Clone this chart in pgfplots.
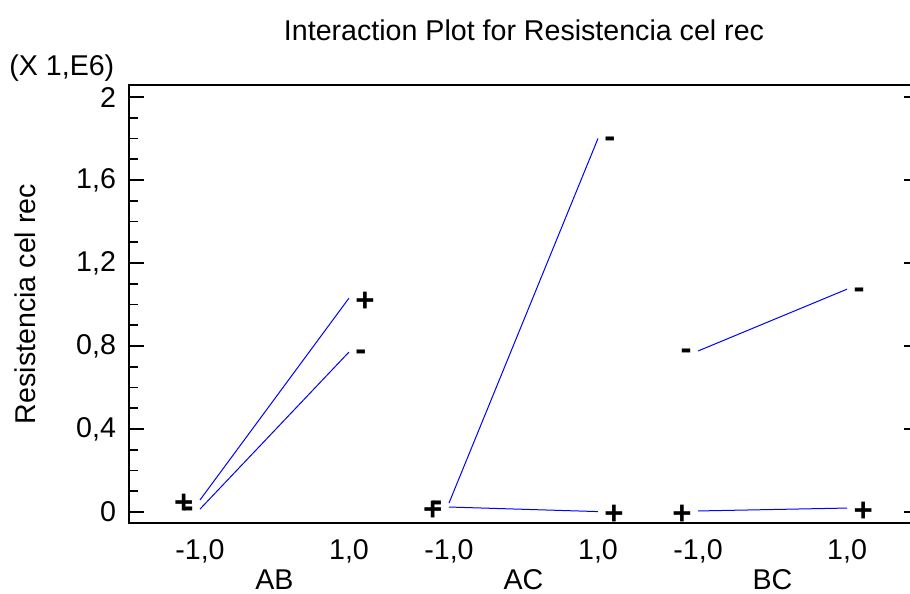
\documentclass[border=0pt]{standalone}
\usepackage{fontspec}
\setmainfont{Liberation Sans}
\usepackage{pgfplots}
\pgfplotsset{compat=1.18}
\begin{document}
\begin{tikzpicture}[font=\fontsize{14.3}{17}\selectfont,
  mk/.style={font=\fontsize{16.5}{19}\selectfont\bfseries, text=black, inner sep=3pt, yshift=-1.8pt}]
\useasboundingbox (-64.5pt,-35.5pt) rectangle (390.5pt,261.5pt);
\begin{axis}[
  at={(0,0)}, anchor=south west,
  scale only axis, width=395pt, height=219pt,
  xmin=-1.953, xmax=8.651, ymin=-0.053, ymax=2.058,
  axis line style={line width=1pt},
  tick align=inside, ytick pos=both,
  ytick={0,0.4,0.8,1.2,1.6,2}, minor y tick num=3,
  major tick length=7.5pt, minor tick length=4.5pt,
  every tick/.style={black, line width=0.8pt},
  yticklabel style={xshift=-3pt, /pgf/number format/.cd, use comma, fixed, assume math mode=true},
  xtick={-1,1,2.342,4.342,5.685,7.685},
  xticklabels={{-1,0},{1,0},{-1,0},{1,0},{-1,0},{1,0}},
  xtick style={draw=none},
  xticklabel style={yshift=-4.6pt},
  extra x ticks={0,3.342,6.685},
  extra x tick labels={AB,AC,BC},
  extra x tick style={xtick style={draw=none}, xticklabel style={yshift=-15.3pt}},
  ylabel={Resistencia cel rec},
  ylabel style={at={(axis description cs:-0.131,0.5)}, anchor=center},
  clip=false,
]
% AB
\addplot[blue, line width=0.5pt] coordinates {(-1,0.058) (1,1.031)}
  node[pos=0,left,mk]{+} node[pos=1,right,mk]{+};
\addplot[blue, line width=0.5pt] coordinates {(-1,0.014) (1,0.771)}
  node[pos=0,left,mk]{-} node[pos=1,right,mk]{-};
% AC
\addplot[blue, line width=0.5pt] coordinates {(2.342,0.043) (4.342,1.800)}
  node[pos=0,left,mk]{-} node[pos=1,right,mk]{-};
\addplot[blue, line width=0.5pt] coordinates {(2.342,0.024) (4.342,0.002)}
  node[pos=0,left,mk]{+} node[pos=1,right,mk]{+};
% BC
\addplot[blue, line width=0.5pt] coordinates {(5.685,0.776) (7.685,1.074)}
  node[pos=0,left,mk]{-} node[pos=1,right,mk]{-};
\addplot[blue, line width=0.5pt] coordinates {(5.685,0.005) (7.685,0.019)}
  node[pos=0,left,mk]{+} node[pos=1,right,mk]{+};
\node at (axis description cs:0.5,1.1256) {Interaction Plot for Resistencia cel rec};
\node at (axis description cs:-0.085,1.039) {(X 1,E6)};
\end{axis}
\end{tikzpicture}
\end{document}
